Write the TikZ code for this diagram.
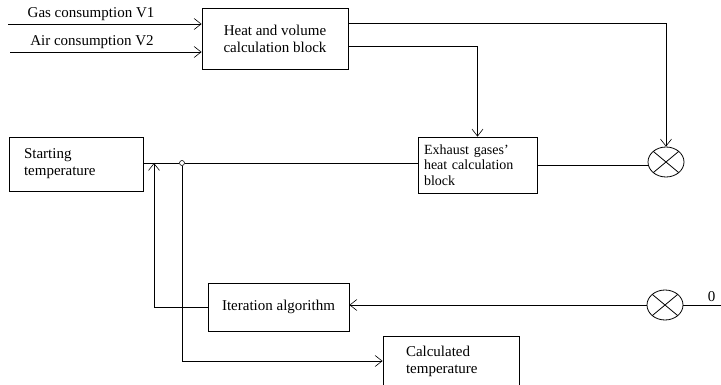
\documentclass[tikz,border=0pt]{standalone}
\usepackage{fontspec}
\setmainfont{Liberation Serif}
\usetikzlibrary{arrows.meta,shapes.geometric}

\begin{document}
\begin{tikzpicture}[
  x=1pt,y=-1pt,
  line width=0.8pt,
  >={Straight Barb[length=7pt,width=11pt,line width=0.6pt]},
  every node/.style={
    font=\fontsize{15pt}{17pt}\selectfont
  },
  block_element/.style={
    draw,rectangle,inner sep=0pt
  },
  sum_element/.style={
    draw,ellipse,minimum width=36pt,minimum height=30pt,inner sep=0pt,
    path picture={
      \draw (path picture bounding box.north east) -- (path picture bounding box.south west);
      \draw (path picture bounding box.north west) -- (path picture bounding box.south east);
    }
  }]
  \useasboundingbox (0,0) rectangle (721,385);
  %
  \node[block_element,minimum width=146pt,minimum height=61pt,align=center] (heat) at (275,38.5)
    {Heat and volume\\calculation block};
  \node[block_element,minimum height=56pt,text width=107pt,inner xsep=6pt,align=left,
    font=\fontsize{14pt}{15.5pt}\selectfont] (exhaust) at (477.5,165)
    {Exhaust gases'\\heat calculation\\block};
  \node[block_element,minimum height=54pt,text width=104pt,inner xsep=15pt,align=left] (start) at (76,164)
    {Starting\\temperature};
  \node[block_element,minimum width=141pt,minimum height=48pt] (iter) at (278.5,307)
    {Iteration algorithm};
  \node[block_element,minimum height=50pt,text width=90pt,inner xsep=23pt,align=left] (calc) at (451,361)
    {Calculated\\temperature};
  \node[sum_element] (sum_top) at (666,162) {};
  \node[sum_element] (sum_bottom) at (665,305) {};
  \node[draw,circle,minimum size=5pt,inner sep=0pt,line width=0.6pt] (branch) at (182,163) {};
  %
  \coordinate (gas_in) at (8,24);
  \coordinate (air_in) at (10,52);
  \coordinate (feedback) at (154,163);
  \coordinate (zero_out) at (721,305);
  %
  \node (gas_label) at (91,14) {Gas consumption V1};
  \node (air_label) at (92,42) {Air consumption V2};
  %
  \draw[->] (gas_in) -- (gas_in -| heat.west);
  \draw[->] (air_in) -- (air_in -| heat.west);
  \draw[->] ([yshift=-16pt]heat.north east) -| (sum_top.north);
  \draw[->] ([yshift=-39pt]heat.north east) -| (exhaust.north);
  \draw (exhaust.east) -- (exhaust.east -| sum_top.west);
  \draw (start.east |- feedback) -- (branch.west);
  \draw (branch.east) -- (branch.east -| exhaust.west);
  \draw[->] (branch.south) |- (calc.west);
  \draw[->] (iter.west) -| (feedback);
  \draw[->] (sum_bottom.west) -- (sum_bottom.west -| iter.east);
  \draw (sum_bottom.east) -- (zero_out) node[pos=0.75,above] (zero_label) {0};
\end{tikzpicture}
\end{document}
